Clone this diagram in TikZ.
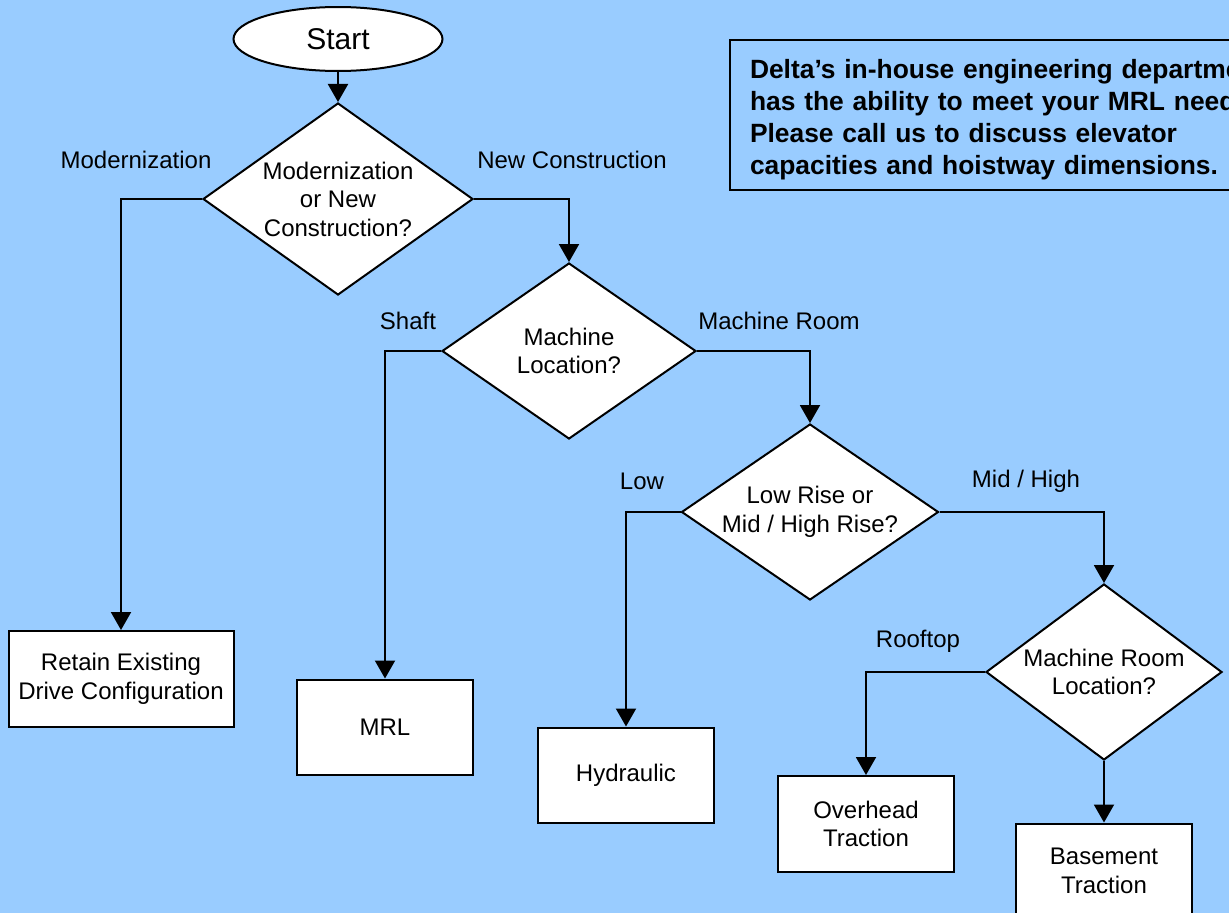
\documentclass[tikz,border=0pt]{standalone}
\usepackage{fontspec}
\setmainfont{Liberation Sans}
\usetikzlibrary{shapes.geometric, arrows.meta, positioning}
\definecolor{skyblue}{HTML}{99CCFF}

\begin{document}
\begin{tikzpicture}[
  x=1pt, y=-1pt,
  every node/.style={font=\fontsize{24}{28.5}\selectfont},
  startstop/.style={ellipse, draw=black, fill=white, line width=2pt, minimum width=209pt, minimum height=64pt, font=\fontsize{30}{34}\selectfont},
  decision/.style={diamond, draw=black, fill=white, line width=2pt, inner sep=0pt},
  process/.style={rectangle, draw=black, fill=white, line width=2pt, align=center, minimum width=176pt, minimum height=95pt},
  info/.style={rectangle, draw=black, line width=2pt, align=left, text width=600pt, inner xsep=20pt, minimum height=150pt, font=\bfseries\fontsize{26.4}{32}\selectfont},
  >={Triangle[width=20pt,length=18pt]},
  line width=2pt
]

\useasboundingbox (0,0) rectangle (1229,913);
\clip (0,0) rectangle (1229,913);
\fill[skyblue] (0,0) rectangle (1229,913);

\node[startstop] (S) at (338,39) {Start};

\node[decision, minimum width=270pt, minimum height=192pt, label={[align=center]center:Modernization\\or New\\Construction?}] (D1) at (338,199) {};
\node[decision, minimum width=254pt, minimum height=176pt, label={[align=center]center:Machine\\Location?}] (D2) at (569,351) {};
\node[decision, minimum width=257pt, minimum height=176pt, label={[align=center]center:Low Rise or\\Mid / High Rise?}] (D3) at (810,512) {};
\node[decision, minimum width=236pt, minimum height=176pt, label={[align=center]center:Machine Room\\Location?}] (D4) at (1104,672) {};

\node[process, minimum width=225pt, minimum height=96pt] (B1) at (121,679) {Retain Existing\\Drive Configuration};
\node[process] (B2) at (385,727) {MRL};
\node[process] (B3) at (626,775) {Hydraulic};
\node[process, minimum height=96pt] (B4) at (866,824) {Overhead\\Traction};
\node[process] (B5) at (1104,871) {Basement\\Traction};

\node[info, anchor=north west] (T) at (729,39) {\rule{0pt}{29pt}Delta’s in-house engineering department\\has the ability to meet your MRL needs.\\Please call us to discuss elevator\\capacities and hoistway dimensions.};

\node (L1) at (136,160) {Modernization};
\node (L2) at (572,160) {New Construction};
\node (L3) at (408,321) {Shaft};
\node (L4) at (779,321) {Machine Room};
\node (L5) at (642,481) {Low};
\node (L6) at (1026,481) {Mid / High};
\node (L7) at (918,641) {Rooftop};

\draw[->] (S) -- (D1);
\draw[->] (D1.west) -| (B1.north);
\draw[->] (D1.east) -| (D2.north);
\draw[->] (D2.west) -| (B2.north);
\draw[->] (D2.east) -| (D3.north);
\draw[->] (D3.west) -| (B3.north);
\draw[->] (D3.east) -| (D4.north);
\draw[->] (D4.west) -| (B4.north);
\draw[->] (D4.south) -- (B5.north);

\end{tikzpicture}
\end{document}
